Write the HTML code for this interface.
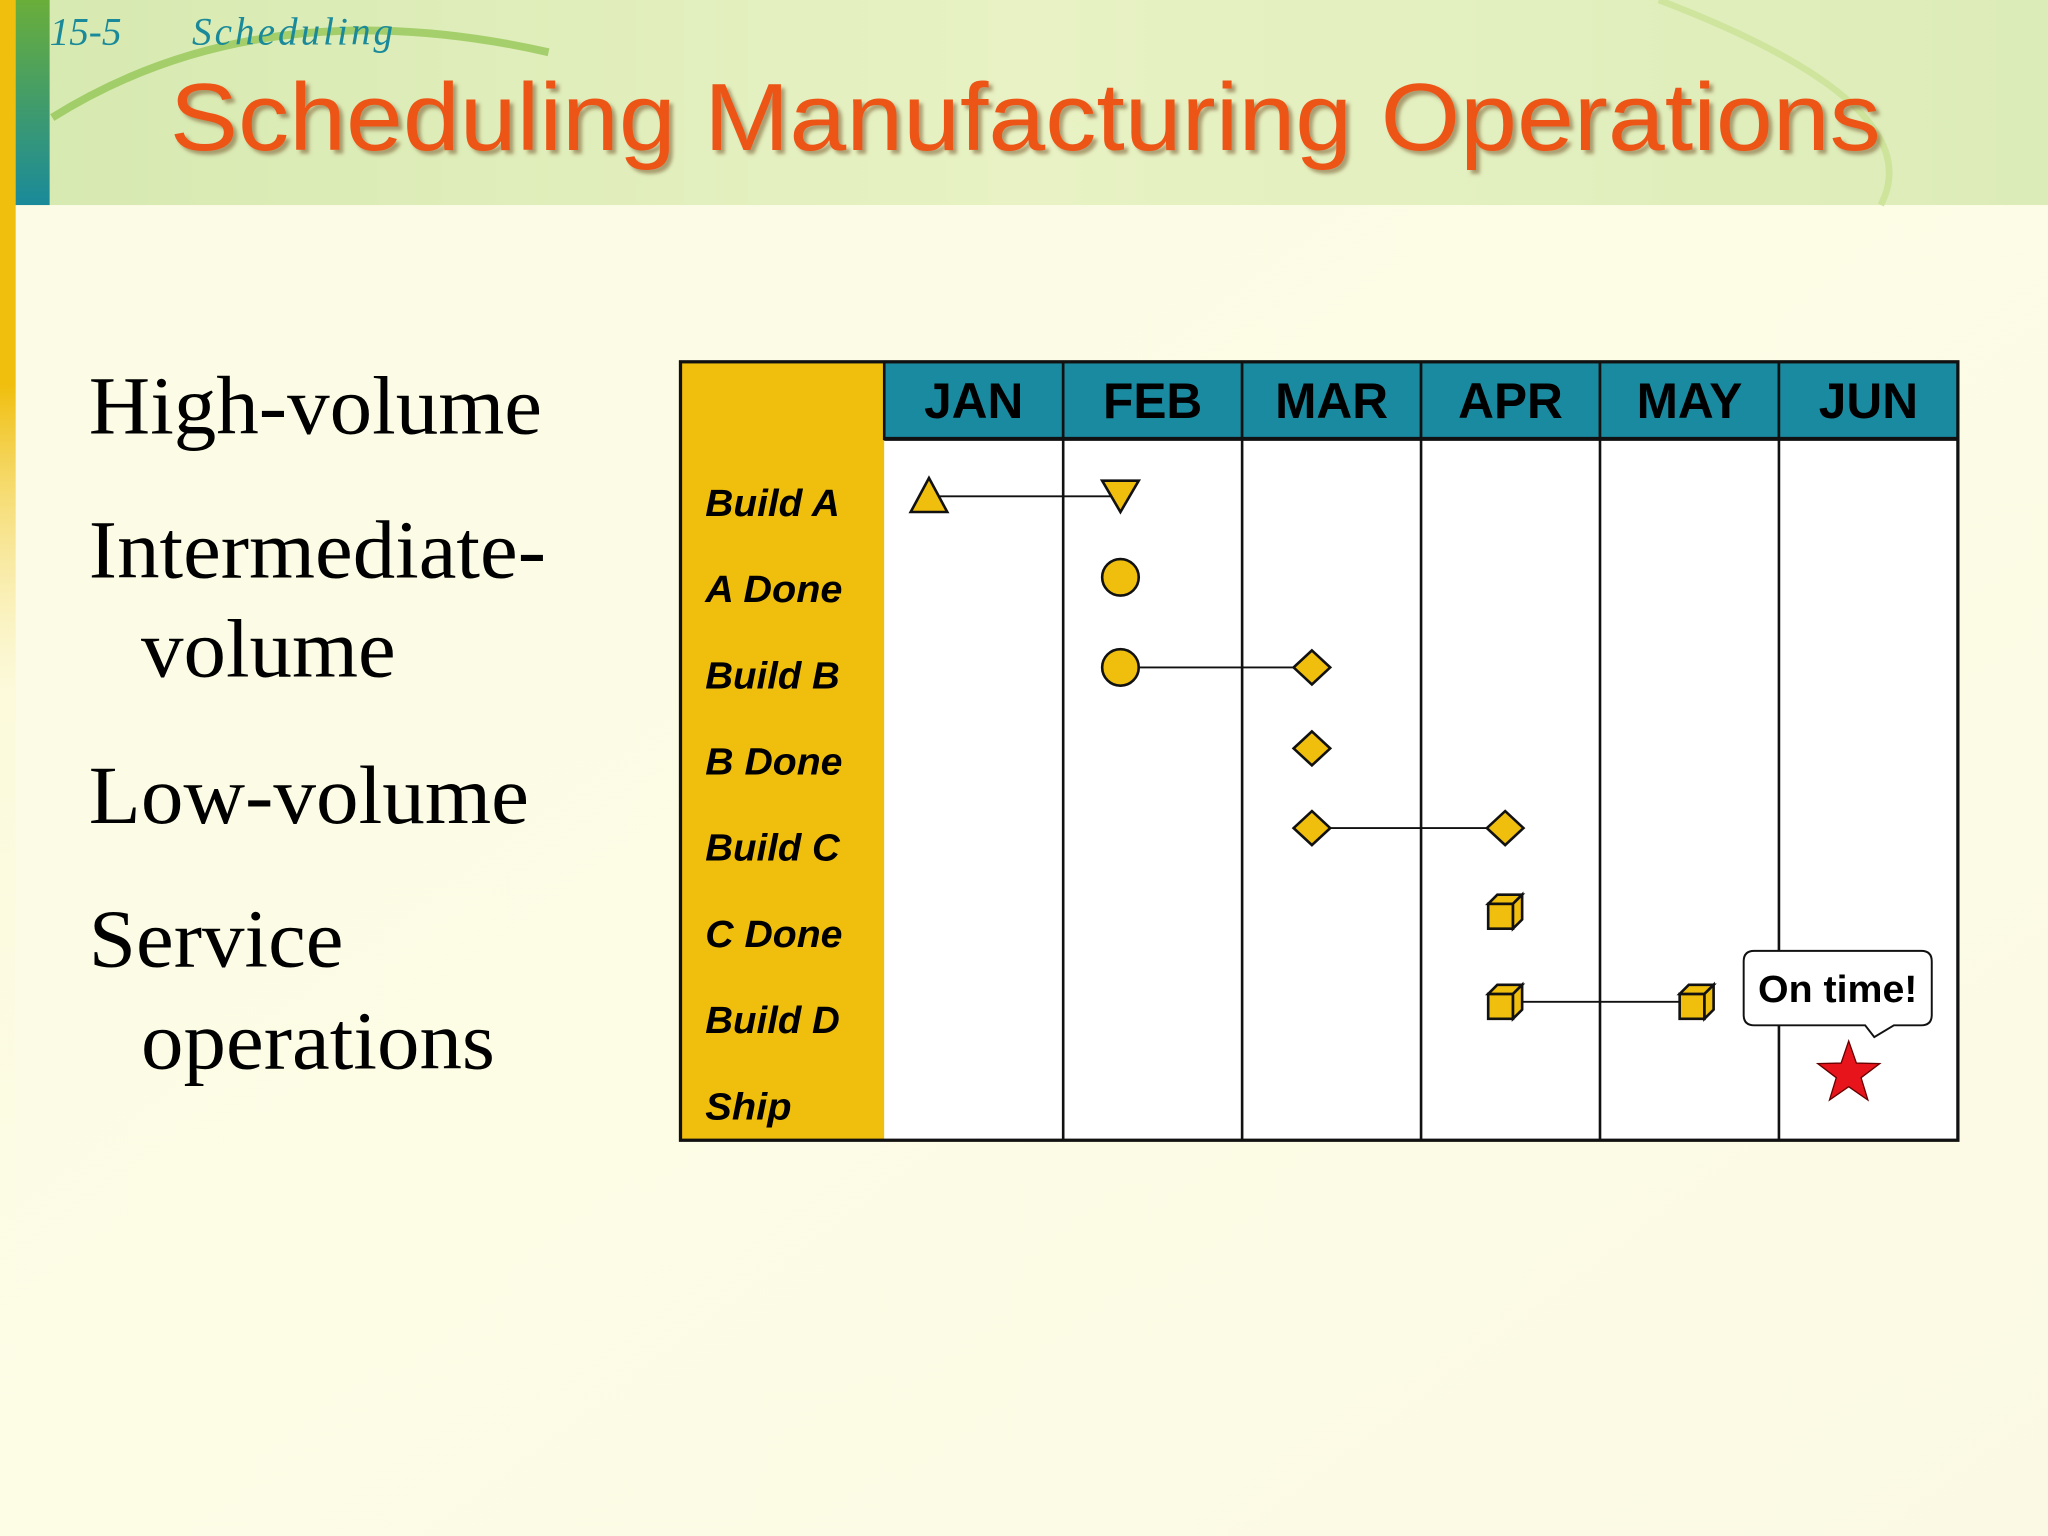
<!DOCTYPE html>
<html><head><meta charset="utf-8">
<style>
html,body{margin:0;padding:0;width:2048px;height:1536px;overflow:hidden;background:#fdfde8;}
svg{display:block}
</style></head>
<body>
<svg id="s" width="2048" height="1536" viewBox="0 0 1568 1176" xmlns="http://www.w3.org/2000/svg">
<defs>
<linearGradient id="bg" x1="0" y1="0" x2="1" y2="1">
<stop offset="0" stop-color="#fbfbe6"/><stop offset="0.5" stop-color="#fdfde6"/><stop offset="1" stop-color="#fbf9e4"/>
</linearGradient>
<linearGradient id="hd" x1="0" y1="0" x2="1" y2="0">
<stop offset="0" stop-color="#d6e9b0"/><stop offset="0.5" stop-color="#e8f2c4"/><stop offset="1" stop-color="#dcecb8"/>
</linearGradient>
<linearGradient id="lb" x1="0" y1="0" x2="0" y2="1">
<stop offset="0" stop-color="#6aae3a"/><stop offset="1" stop-color="#1a8a9a"/>
</linearGradient>
<linearGradient id="yb" x1="0" y1="0" x2="0" y2="1">
<stop offset="0" stop-color="#f0be0c"/><stop offset="0.25" stop-color="#f0be0c"/><stop offset="0.45" stop-color="#fbf4c0" stop-opacity="0.3"/><stop offset="1" stop-color="#fdfde8" stop-opacity="0"/>
</linearGradient>
<filter id="sh"><feDropShadow dx="3" dy="3" stdDeviation="1.5" flood-color="#7a5a30" flood-opacity="0.55"/></filter>
</defs>
<rect width="1568" height="1176" fill="url(#bg)"/>
<rect x="0" y="0" width="1568" height="157" fill="url(#hd)"/>
<path d="M40 90 Q200 -10 420 40" stroke="#8cc24a" stroke-width="6" fill="none" opacity="0.7"/>
<path d="M1270 0 Q1480 80 1440 157" stroke="#c8e08e" stroke-width="5" fill="none" opacity="0.7"/>
<rect x="0" y="0" width="12" height="1176" fill="url(#yb)"/>
<rect x="12" y="0" width="26" height="157" fill="url(#lb)"/>
<text x="38" y="34" font-family="Liberation Serif, serif" font-style="italic" font-size="30" fill="#1a8a9a">15-5</text>
<text x="147" y="34" font-family="Liberation Serif, serif" font-style="italic" font-size="30" fill="#1a8a9a" textLength="154">Scheduling</text>
<text x="130" y="115" font-family="Liberation Sans, sans-serif" font-size="73" fill="#ec5416" filter="url(#sh)" textLength="1310" lengthAdjust="spacingAndGlyphs">Scheduling Manufacturing Operations</text>
<g font-family="Liberation Serif, serif" font-size="63" fill="#000">
<text x="68" y="332" textLength="347" lengthAdjust="spacingAndGlyphs">High-volume</text>
<text x="68" y="442" textLength="350" lengthAdjust="spacingAndGlyphs">Intermediate-</text>
<text x="108" y="518" textLength="195" lengthAdjust="spacingAndGlyphs">volume</text>
<text x="68" y="630" textLength="337" lengthAdjust="spacingAndGlyphs">Low-volume</text>
<text x="68" y="740" textLength="195" lengthAdjust="spacingAndGlyphs">Service</text>
<text x="108" y="818" textLength="271" lengthAdjust="spacingAndGlyphs">operations</text>
</g>
<g id="chart"></g>
</svg>
<script>
const months = ["JAN","FEB","MAR","APR","MAY","JUN"];
const tasks = ["Build A","A Done","Build B","B Done","Build C","C Done","Build D","Ship"];
// marker positions in month units (0 = start of JAN)
const startMonth = [0.25, 1.32, 1.32, 2.39, 2.39, 3.47, 3.47, 5.39];
const endMonth   = [1.32, null, 2.39, null, 3.47, null, 4.54, null];
const startShape = ["tri","circle","circle","diamond","diamond","cube","cube","star"];
const endShape   = ["itri",null,"diamond",null,"diamond",null,"cube",null];
const markerY    = [380, 442, 511, 573, 634, 698, 767, 822];

const NS="http://www.w3.org/2000/svg";
const g=document.getElementById('chart');
const X0=677, MW=137, TOP=277, HB=336, BOT=873, LX=521;
const xOf=m=>X0+m*MW;
function el(t,a,p){const e=document.createElementNS(NS,t);for(const k in a)e.setAttribute(k,a[k]);(p||g).appendChild(e);return e;}
let r=el('rect',{x:LX,y:TOP,width:X0-LX,height:BOT-TOP,fill:'#f0be0c'});


r=el('rect',{x:X0,y:HB,width:MW*months.length,height:BOT-HB,fill:'#fff'});


months.forEach((m,i)=>{
  const h=el('rect',{x:xOf(i),y:TOP,width:MW,height:HB-TOP,fill:'#1a8aa0',stroke:'#111','stroke-width':2});
  
  
  const t=el('text',{x:xOf(i)+MW/2,y:320,'text-anchor':'middle','font-family':'Liberation Sans, sans-serif','font-weight':'bold','font-size':38,fill:'#000'});
  t.textContent=m;
  
  
  if(i>0){const l=el('line',{x1:xOf(i),y1:HB,x2:xOf(i),y2:BOT,stroke:'#111','stroke-width':2});
  
  }
});
el('line',{x1:X0,y1:HB,x2:xOf(6),y2:HB,stroke:'#111','stroke-width':3});
r=el('rect',{x:LX,y:TOP,width:xOf(6)-LX,height:BOT-TOP,fill:'none',stroke:'#111','stroke-width':2.5});


tasks.forEach((t,i)=>{
  const w = t==='Ship' ? 66 : (t.indexOf('Done')>=0 ? 105 : 103);
  const e=el('text',{x:540,y:395+i*66,'font-family':'Liberation Sans, sans-serif','font-weight':'bold','font-style':'italic','font-size':29,fill:'#000',textLength:w,lengthAdjust:'spacingAndGlyphs'});
  e.textContent=t;
  
  
});
function shape(kind,x,y){
  const a={fill:'#f0be0c',stroke:'#111','stroke-width':2};let e;
  if(kind==='tri')e=el('polygon',Object.assign({points:`${x},${y-14} ${x-14},${y+12} ${x+14},${y+12}`},a));
  else if(kind==='itri')e=el('polygon',Object.assign({points:`${x-14},${y-12} ${x+14},${y-12} ${x},${y+12}`},a));
  else if(kind==='circle')e=el('circle',Object.assign({cx:x,cy:y,r:14},a));
  else if(kind==='diamond')e=el('polygon',Object.assign({points:`${x},${y-13} ${x+14},${y} ${x},${y+13} ${x-14},${y}`},a));
  else if(kind==='cube'){e=el('g',{});
    el('polygon',Object.assign({points:`${x-13},${y-6} ${x+6},${y-6} ${x+6},${y+13} ${x-13},${y+13}`},a),e);
    el('polygon',Object.assign({points:`${x-13},${y-6} ${x-6},${y-13} ${x+13},${y-13} ${x+6},${y-6}`},a),e);
    el('polygon',Object.assign({points:`${x+6},${y-6} ${x+13},${y-13} ${x+13},${y+6} ${x+6},${y+13}`},a),e);}
  else if(kind==='star'){let p=[];for(let k=0;k<10;k++){const rr=k%2?10:25,an=-Math.PI/2+k*Math.PI/5;p.push((x+rr*Math.cos(an)).toFixed(1)+','+(y+rr*Math.sin(an)).toFixed(1));}
    e=el('polygon',{points:p.join(' '),fill:'#e8141c',stroke:'#600','stroke-width':1});}
  
  
}
tasks.forEach((t,i)=>{
  const y=markerY[i];
  if(endMonth[i]!==null){
    const l=el('line',{x1:xOf(startMonth[i]),y1:y,x2:xOf(endMonth[i]),y2:y,stroke:'#111','stroke-width':1.5});
    
    
  }
  shape(startShape[i],xOf(startMonth[i]),y);
  if(endMonth[i]!==null)shape(endShape[i],xOf(endMonth[i]),y);
});
const c=el('path',{d:'M1345 728 H1471 Q1479 728 1479 736 V777 Q1479 785 1471 785 H1450 L1435 794 L1428 785 H1343 Q1335 785 1335 777 V736 Q1335 728 1343 728 Z',fill:'#fff',stroke:'#111','stroke-width':1.5});


const ct=el('text',{x:1407,y:767,'text-anchor':'middle','font-family':'Liberation Sans, sans-serif','font-weight':'bold','font-size':29,fill:'#000',textLength:122,lengthAdjust:'spacingAndGlyphs'});
ct.textContent='On time!';


</script>
</body></html>
